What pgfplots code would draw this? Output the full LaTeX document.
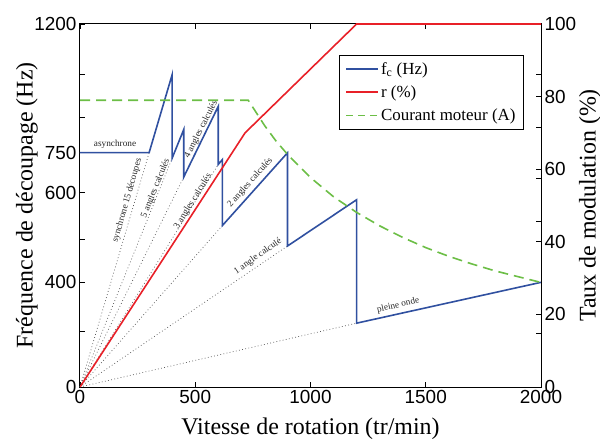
\documentclass[border=0pt]{standalone}
\usepackage{pgfplots}
\pgfplotsset{compat=1.18}
\usepackage{fontspec}
\setmainfont{Liberation Serif}
\newfontfamily\sansnum{Liberation Sans}
\definecolor{fcblue}{RGB}{48,80,160}
\definecolor{rred}{RGB}{232,32,40}
\definecolor{cgreen}{RGB}{108,190,70}
\begin{document}
\begin{tikzpicture}
\useasboundingbox (-80bp,-54bp) rectangle (520bp,387bp);
\pgfplotsset{every axis/.append style={scale only axis, width=461bp, height=363bp,
  xmin=0, xmax=2000, tick align=inside, major tick length=5bp,
  axis line style={line width=1bp},
  every tick/.style={black, line width=0.8bp},
  tick label style={font=\sansnum\fontsize{19}{19}\selectfont},
  label style={font=\fontsize{24}{24}\selectfont},
  /pgf/number format/assume math mode=true,
  /pgf/number format/1000 sep={}}}
\begin{axis}[ymin=0, ymax=1200,
  ytick={0,185,347,488,642,774,892,1033,1200},
  yticklabels={0,,400,,600,750,,,1200},
  ytick pos=left,
  xtick={0,500,1000,1500,2000},
  xlabel={Vitesse de rotation (tr/min)},
  ylabel={Fréquence de découpage (Hz)},
  xlabel style={at={(axis description cs:0.5,-0.115)}, anchor=center},
  ylabel style={at={(axis description cs:-0.115,0.5)}, anchor=center}]
% dotted guide lines from origin
\addplot[gray!70!black, line width=0.7bp, dash pattern=on 0.8bp off 2.4bp] coordinates {(0,0) (300,775)};
\addplot[gray!70!black, line width=0.7bp, dash pattern=on 0.8bp off 2.4bp] coordinates {(0,0) (400,757)};
\addplot[gray!70!black, line width=0.7bp, dash pattern=on 0.8bp off 2.4bp] coordinates {(0,0) (450,694)};
\addplot[gray!70!black, line width=0.7bp, dash pattern=on 0.8bp off 2.4bp] coordinates {(0,0) (600,736)};
\addplot[gray!70!black, line width=0.7bp, dash pattern=on 0.8bp off 2.4bp] coordinates {(0,0) (618,534)};
\addplot[gray!70!black, line width=0.7bp, dash pattern=on 0.8bp off 2.4bp] coordinates {(0,0) (900,466)};
\addplot[gray!70!black, line width=0.7bp, dash pattern=on 0.8bp off 2.4bp] coordinates {(0,0) (1200,211)};
% switching frequency
\addplot[fcblue, line width=1.6bp] coordinates {
  (0,775) (300,775) (400,1033) (400,757) (450,851) (450,694) (600,928)
  (600,736) (618,752) (618,534) (900,774) (900,466) (1200,619) (1200,211) (2000,346)};
\begin{scope}[every node/.style={font=\fontsize{9.3}{9.3}\selectfont, text=black!85, inner sep=0pt}]
\node at (axis cs:152,802) {asynchrone};
\node[rotate=74] at (axis cs:205,617) {synchrone 15 découpes};
\node[rotate=68] at (axis cs:328,657) {5 angles calculés};
\node[rotate=63] at (axis cs:526,852) {4 angles calculés};
\node[rotate=58] at (axis cs:490,614) {3 angles calculés};
\node[rotate=48] at (axis cs:738,676) {2 angles calculés};
\node[rotate=35] at (axis cs:772,432) {1 angle calculé};
\node[rotate=12.6] at (axis cs:1380,270) {pleine onde};
\end{scope}
\end{axis}
\begin{axis}[ymin=0, ymax=100,
  axis y line*=right, axis x line=none,
  ytick={0,20,40,60,80,100},
  extra y ticks={14.9,45.7,57.6,71.6,86}, extra y tick labels={},
  ylabel={Taux de modulation (\%)},
  ylabel style={at={(axis description cs:1.106,0.5)}, anchor=center},
  legend style={at={(0.963,0.915)}, anchor=north east, draw=black, line width=0.8bp,
    fill=white, font=\fontsize{17}{17}\selectfont, row sep=6bp,
    inner xsep=6bp, inner ysep=5bp},
  legend cell align=left,
  legend image code/.code={\draw[#1] (0bp,0bp) -- (32bp,0bp);}]
\addlegendimage{fcblue, line width=1.6bp}
\addlegendentry{f\textsubscript{c} (Hz)}
\addplot[rred, line width=1.6bp] coordinates {(0,0) (716,70) (1200,100) (2000,100)};
\addlegendentry{r (\%)}
\addplot[cgreen, line width=1.6bp, dash pattern=on 10bp off 6bp, forget plot] coordinates {
  (0,79) (730,79) (800,72.1) (850,67.8) (900,64.1) (1000,57.7) (1100,52.4) (1200,48.1)
  (1300,44.4) (1400,41.2) (1500,38.4) (1600,36.0) (1700,33.9) (1800,32.0) (1900,30.4) (2000,28.8)};
\addlegendimage{cgreen, line width=1.6bp, dash pattern=on 7bp off 5bp}
\addlegendentry{Courant moteur (A)}
\end{axis}
\end{tikzpicture}
\end{document}
